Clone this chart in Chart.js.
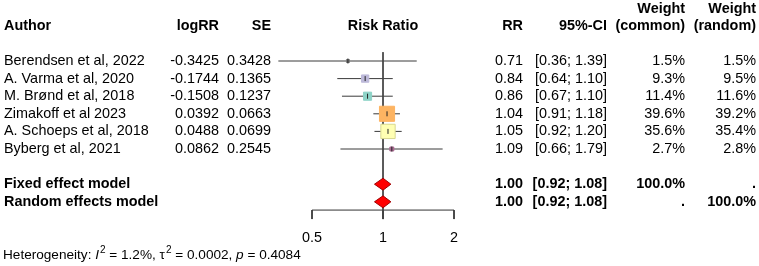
<!DOCTYPE html>
<html>
<head>
<meta charset="utf-8">
<script src="https://cdn.jsdelivr.net/npm/chart.js@4.4.0/dist/chart.umd.min.js"></script>
<style>
  body { margin: 0; background: #fff; }
  #wrap { width: 759px; height: 266px; position: relative; }
</style>
</head>
<body>
<div id="wrap"><canvas id="forest"></canvas></div>
<script>
// study data
const authors = ['Berendsen et al, 2022', 'A. Varma et al, 2020', 'M. Brønd et al, 2018',
                 'Zimakoff et al 2023', 'A. Schoeps et al, 2018', 'Byberg et al, 2021'];
const logRR = ['-0.3425', '-0.1744', '-0.1508', '0.0392', '0.0488', '0.0862'];
const se = ['0.3428', '0.1365', '0.1237', '0.0663', '0.0699', '0.2545'];
const rr = [0.71, 0.84, 0.86, 1.04, 1.05, 1.09];
const ciLow = [0.36, 0.64, 0.67, 0.91, 0.92, 0.66];
const ciHigh = [1.39, 1.10, 1.10, 1.18, 1.20, 1.79];
const weightCommon = [1.5, 9.3, 11.4, 39.6, 35.6, 2.7];
const weightRandom = [1.5, 9.5, 11.6, 39.2, 35.4, 2.8];
const boxColors = ['#7a7a7a', '#bebada', '#8dd3c7', '#fdb462', '#ffffb3', '#a86890'];

// pooled models
const models = ['Fixed effect model', 'Random effects model'];
const modelRR = [1.00, 1.00];
const modelLow = [0.92, 0.92];
const modelHigh = [1.08, 1.08];
const modelWeightCommon = ['100.0%', '.'];
const modelWeightRandom = ['.', '100.0%'];

const axisTicks = [0.5, 1, 2];
const hetI2 = '1.2%', hetTau2 = '0.0002', hetP = '0.4084';

// row layout (row index on y scale)
const studyRows = authors.map((a, i) => i + 1);
const modelRows = [8, 9];
const headerRow = -1;
const axisRow = 9.47;
const tickEndRow = 9.98;
const tickLabelRow = 11.06;
const hetRow = 12.02;

const FONT = '"Liberation Sans", Arial, sans-serif';
const FS = 14.4;

const datasets = [];

// confidence interval lines
studyRows.forEach((r, i) => {
    datasets.push({
        data: [{x: ciLow[i], y: r}, {x: ciHigh[i], y: r}],
        showLine: true, borderColor: '#3a3a3a', borderWidth: 1,
        pointRadius: 0, order: 4
    });
});

// reference line at 1
datasets.push({
    data: [{x: 1, y: 0.5}, {x: 1, y: tickEndRow}],
    showLine: true, borderColor: '#444', borderWidth: 1,
    pointRadius: 0, order: 3
});

// x axis line and ticks
datasets.push({
    data: [{x: axisTicks[0], y: axisRow}, {x: axisTicks[axisTicks.length - 1], y: axisRow}],
    showLine: true, borderColor: '#333', borderWidth: 1, pointRadius: 0, order: 3
});
axisTicks.forEach(t => {
    datasets.push({
        data: [{x: t, y: axisRow}, {x: t, y: tickEndRow}],
        showLine: true, borderColor: '#333', borderWidth: 1, pointRadius: 0, order: 3
    });
});

// weight boxes (area proportional to weight)
datasets.push({
    data: studyRows.map((r, i) => ({x: rr[i], y: r})),
    pointStyle: 'rect',
    pointRadius: weightCommon.map(w => Math.sqrt(w) * 2.4 / Math.SQRT2),
    backgroundColor: boxColors,
    borderColor: boxColors.map((c, i) => i === 4 ? '#d8d890' : c),
    borderWidth: 1,
    order: 2
});

// centre marks
datasets.push({
    data: studyRows.map((r, i) => ({x: rr[i], y: r})),
    pointStyle: 'line', rotation: 90, pointRadius: 2.5,
    borderColor: '#222', borderWidth: 1, order: 1
});

// diamonds
modelRows.forEach((r, i) => {
    const h = 0.34;
    datasets.push({
        data: [{x: modelLow[i], y: r}, {x: modelRR[i], y: r - h}, {x: modelHigh[i], y: r},
               {x: modelRR[i], y: r + h}, {x: modelLow[i], y: r}],
        showLine: true, fill: 'shape', tension: 0,
        backgroundColor: '#ff0000', borderColor: '#a00000', borderWidth: 1,
        pointRadius: 0, order: 0
    });
});

const textPlugin = {
    id: 'forestText',
    afterDraw(chart) {
        const ctx = chart.ctx;
        const xs = chart.scales.x, ys = chart.scales.y;
        const Y = r => ys.getPixelForValue(r);
        const put = (s, x, r, align, bold, size) => {
            ctx.font = (bold ? 'bold ' : '') + (size || FS) + 'px ' + FONT;
            ctx.textAlign = align;
            ctx.textBaseline = 'middle';
            ctx.fillStyle = '#000';
            ctx.fillText(s, x, Y(r));
        };
        ctx.save();
        // headers
        put('Author', 4, headerRow, 'left', true);
        put('logRR', 219, headerRow, 'right', true);
        put('SE', 271, headerRow, 'right', true);
        put('Risk Ratio', xs.getPixelForValue(1), headerRow, 'center', true);
        put('RR', 523, headerRow, 'right', true);
        put('95%-CI', 607, headerRow, 'right', true);
        put('Weight', 685, headerRow - 0.93, 'right', true);
        put('(common)', 685, headerRow, 'right', true);
        put('Weight', 756, headerRow - 0.93, 'right', true);
        put('(random)', 756, headerRow, 'right', true);

        // study rows
        studyRows.forEach((r, i) => {
            put(authors[i], 4, r, 'left', false);
            put(logRR[i], 219, r, 'right', false);
            put(se[i], 271, r, 'right', false);
            put(rr[i].toFixed(2), 523, r, 'right', false);
            put('[' + ciLow[i].toFixed(2) + '; ' + ciHigh[i].toFixed(2) + ']', 607, r, 'right', false);
            put(weightCommon[i].toFixed(1) + '%', 685, r, 'right', false);
            put(weightRandom[i].toFixed(1) + '%', 756, r, 'right', false);
        });

        // model rows
        modelRows.forEach((r, i) => {
            put(models[i], 4, r, 'left', true);
            put(modelRR[i].toFixed(2), 523, r, 'right', true);
            put('[' + modelLow[i].toFixed(2) + '; ' + modelHigh[i].toFixed(2) + ']', 607, r, 'right', true);
            put(modelWeightCommon[i], 685, r, 'right', true);
            put(modelWeightRandom[i], 756, r, 'right', true);
        });

        // axis tick labels
        axisTicks.forEach(t => put(String(t), xs.getPixelForValue(t), tickLabelRow, 'center', false));

        // heterogeneity line
        const hs = 13.6;
        const parts = [
            ['Heterogeneity: ', ''], ['I', 'italic '], ['2', 'sup'], [' = ' + hetI2 + ', \u03c4', ''],
            ['2', 'sup'], [' = ' + hetTau2 + ', ', ''], ['p', 'italic '], [' = ' + hetP, '']
        ];
        let x = 3;
        const y = Y(hetRow);
        ctx.textAlign = 'left';
        ctx.textBaseline = 'middle';
        parts.forEach(([s, st]) => {
            if (st === 'sup') {
                ctx.font = '10px ' + FONT;
                ctx.fillText(s, x + 1, y - 5);
                x += ctx.measureText(s).width + 1;
            } else {
                ctx.font = st + hs + 'px ' + FONT;
                ctx.fillText(s, x, y);
                x += ctx.measureText(s).width;
            }
        });
        ctx.restore();
    }
};

new Chart(document.getElementById('forest'), {
    type: 'scatter',
    data: {datasets: datasets},
    options: {
        responsive: true,
        maintainAspectRatio: false,
        animation: false,
        layout: {padding: 0, autoPadding: false},
        plugins: {legend: {display: false}, tooltip: {enabled: false}},
        scales: {
            x: {type: 'logarithmic', display: false,
                min: Math.pow(2, -383 / 71), max: Math.pow(2, (759 - 383) / 71)},
            y: {type: 'linear', display: false, reverse: true,
                min: 1 - 61 / 17.6, max: 1 + 205 / 17.6}
        }
    },
    plugins: [textPlugin]
});
</script>
</body>
</html>
